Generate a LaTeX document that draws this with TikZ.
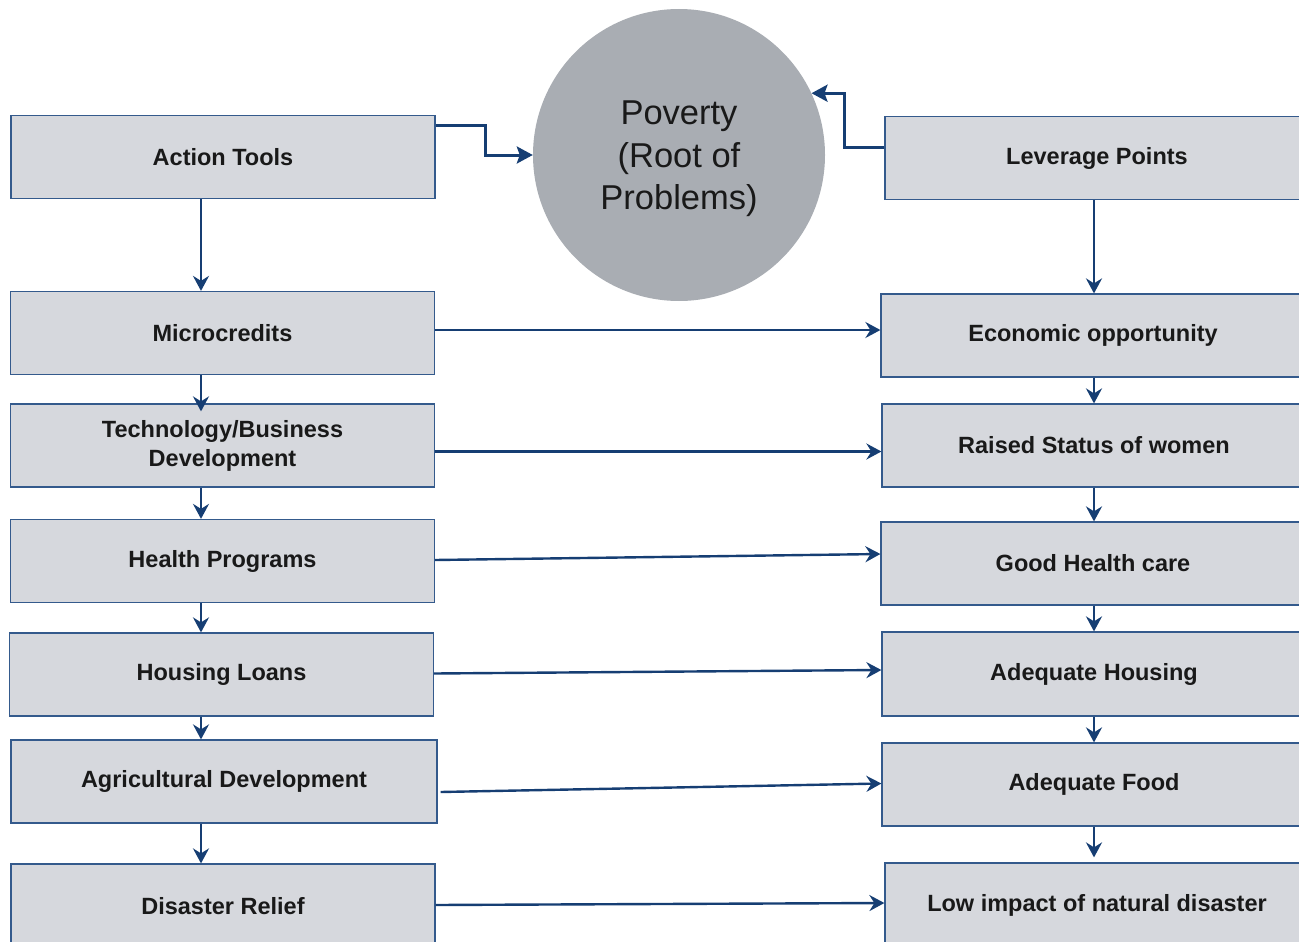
\documentclass[tikz,border=0pt]{standalone}
\usepackage{fontspec}
\setmainfont{Liberation Sans}
\usetikzlibrary{arrows.meta}

\definecolor{boxfill}{RGB}{214,216,221}
\definecolor{boxline}{RGB}{52,90,140}
\definecolor{linkblue}{RGB}{22,62,115}
\definecolor{rootgray}{RGB}{169,173,179}

\begin{document}
\begin{tikzpicture}[x=1pt,y=-1pt,
  box/.style={draw=boxline, line width=1.2pt, fill=boxfill,
    minimum width=424pt, minimum height=83pt, inner sep=0pt,
    align=center, text=black!90, font=\fontsize{23.5}{29}\selectfont\bfseries},
  link/.style={draw=linkblue, line width=2.4pt,
    -{Stealth[length=15pt,width=16pt,inset=5pt]}},
  rootlink/.style={link, line width=3pt,
    -{Stealth[length=16pt,width=17pt,inset=3pt]}}]
  \useasboundingbox (0,0) rectangle (1299,942);
  \clip (0,0) rectangle (1299,942);

  % columns of the vertical arrows
  \coordinate (lcol) at (201,0);
  \coordinate (rcol) at (1094,0);

  % root in the middle
  \node[circle, fill=rootgray, minimum size=292pt, inner sep=0pt] (pov) at (679,155) {};
  \node[align=center, text=black!90, font=\fontsize{34.5}{42.5}\selectfont]
    (povtext) at ([yshift=-4pt]pov.center) {Poverty\\(Root of\\Problems)};

  % left column: action tools
  \node[box] (acttools) at (223,157)   {Action Tools};
  \node[box] (micro)    at (222.5,333) {Microcredits};
  \node[box] (techbiz)  at (222.5,445.5) {Technology/Business\\Development};
  \node[box] (health)   at (222.5,561) {Health Programs};
  \node[box] (housing)  at (221.5,674.5) {Housing Loans};
  \node[box, minimum width=426pt] (agri) at (224,781.5) {Agricultural Development};
  \node[box, minimum height=84pt] (relief) at (223,906) {Disaster Relief};

  % right column: leverage points
  \node[box] (levpts)    at (1097,158)   {Leverage Points};
  \node[box] (econ)      at (1093,335.5) {Economic opportunity};
  \node[box] (women)     at (1094,445.5) {Raised Status of women};
  \node[box] (care)      at (1093,563.5) {Good Health care};
  \node[box, minimum height=84pt] (housingok) at (1094,674) {Adequate Housing};
  \node[box] (food)      at (1094,784.5) {Adequate Food};
  \node[box, minimum height=84pt] (disaster) at (1097,905) {Low impact of natural disaster};

  % both sides feed the root
  \draw[rootlink] ([yshift=32pt]acttools.east) -- ++(50,0) |- (pov.west);
  \draw[rootlink] ([yshift=11pt]levpts.west) -- ++(-40,0) |- (pov.25);

  % down the left column
  \draw[link] (acttools.south -| lcol) -- (micro.north -| lcol);
  \draw[link] (micro.south -| lcol)    -- ([yshift=-8pt]techbiz.north -| lcol);
  \draw[link] (techbiz.south -| lcol)  -- (health.north -| lcol);
  \draw[link] (health.south -| lcol)   -- (housing.north -| lcol);
  \draw[link] (housing.south -| lcol)  -- (agri.north -| lcol);
  \draw[link] (agri.south -| lcol)     -- (relief.north -| lcol);

  % down the right column
  \draw[link] (levpts.south -| rcol)    -- (econ.north -| rcol);
  \draw[link] (econ.south -| rcol)      -- (women.north -| rcol);
  \draw[link] (women.south -| rcol)     -- (care.north -| rcol);
  \draw[link] (care.south -| rcol)      -- (housingok.north -| rcol);
  \draw[link] (housingok.south -| rcol) -- (food.north -| rcol);
  \draw[link] (food.south -| rcol)      -- ([yshift=5pt]disaster.north -| rcol);

  % across, tool to leverage point
  \draw[link] ([yshift=3pt]micro.east)    -- ([yshift=5.5pt]econ.west);
  \draw[link] ([yshift=-6pt]techbiz.east) -- ([yshift=-6pt]women.west);
  \draw[link] ([yshift=1pt]health.east)   -- ([yshift=9.5pt]care.west);
  \draw[link] ([yshift=1pt]housing.east)  -- ([yshift=4pt]housingok.west);
  \draw[link] ([xshift=3pt,yshift=-10.5pt]agri.east) -- ([yshift=1pt]food.west);
  \draw[link] ([yshift=1pt]relief.east)   -- ([yshift=2pt]disaster.west);
\end{tikzpicture}
\end{document}
